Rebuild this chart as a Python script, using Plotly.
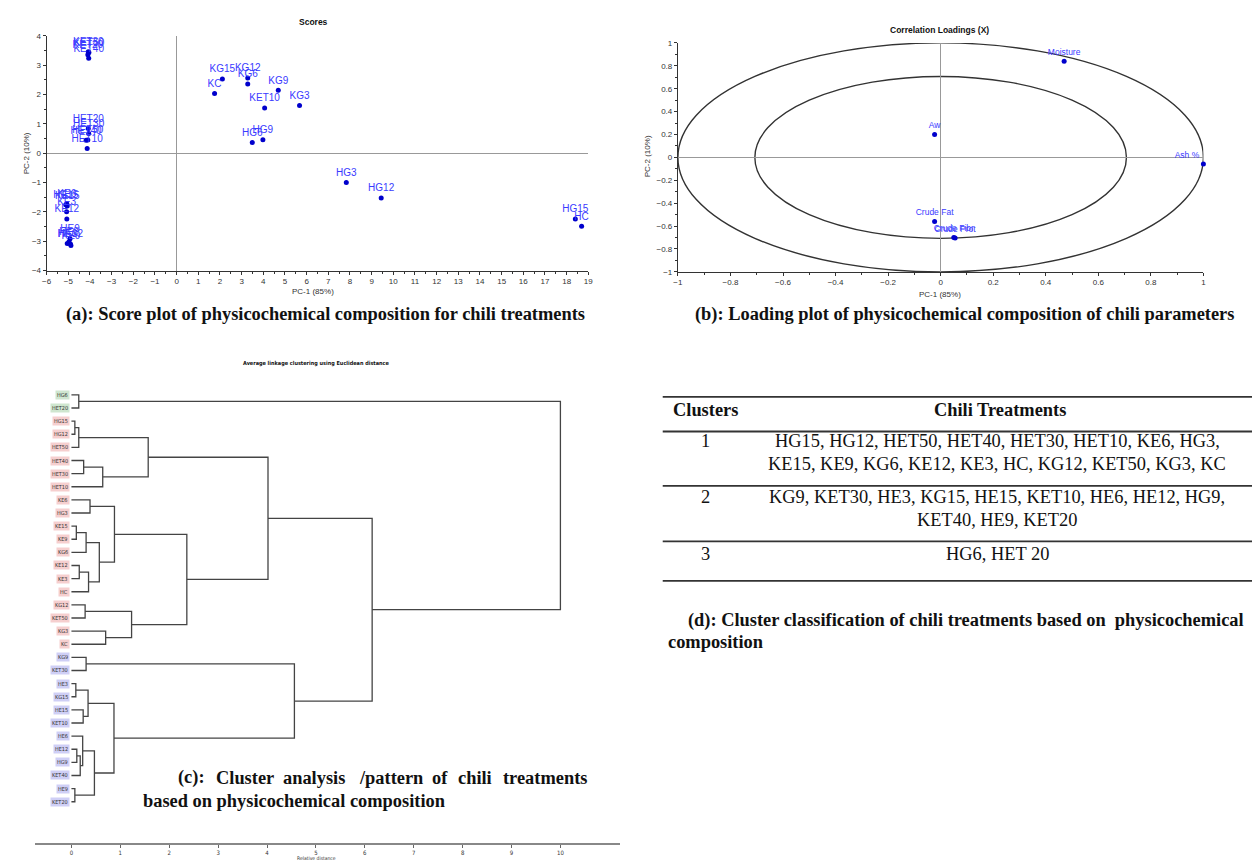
import plotly.graph_objects as go

W, H = 1257, 867

# ---------------- (a) Scores ----------------
score_labels = ["KET30", "KET50", "KET20", "KET40",
                "HET20", "HET30", "HET40", "HET50", "HET10",
                "KE6", "HE15", "KE15", "KE3", "KE12",
                "HE9", "HE3", "HE6", "HE12", "KE9",
                "KG15", "KC", "KG12", "KG6", "KG9", "KET10", "KG3", "HG6", "HG9",
                "HG3", "HG12", "HG15", "HC"]
score_pc1 = [-4.08, -4.05, -4.10, -4.06,
             -4.08, -4.06, -4.18, -4.10, -4.13,
             -5.07, -5.12, -5.05, -5.08, -5.07,
             -4.92, -4.97, -5.05, -4.90, -4.88,
             2.11, 1.75, 3.28, 3.28, 4.69, 4.06, 5.67, 3.49, 3.98,
             7.83, 9.44, 18.40, 18.69]
score_pc2 = [3.46, 3.44, 3.36, 3.24,
             0.84, 0.67, 0.44, 0.45, 0.16,
             -1.72, -1.76, -1.80, -2.00, -2.24,
             -2.92, -3.02, -3.08, -3.10, -3.15,
             2.53, 2.04, 2.57, 2.36, 2.15, 1.54, 1.63, 0.37, 0.46,
             -1.00, -1.53, -2.24, -2.49]

# ---------------- (b) Correlation loadings ----------------
load_labels = ["Moisture", "Aw", "Ash %", "Crude Fat", "Crude Prot", "Crude Fibr"]
load_pc1 = [0.47, -0.023, 1.0, -0.023, 0.055, 0.05]
load_pc2 = [0.84, 0.20, -0.058, -0.56, -0.705, -0.70]
ellipse_radii = [1.0, 0.7071]

# ---------------- (c) Dendrogram ----------------
leaves = ["HG6", "HET20", "HG15", "HG12", "HET50", "HET40", "HET30", "HET10",
          "KE6", "HG3", "KE15", "KE9", "KG6", "KE12", "KE3", "HC",
          "KG12", "KET50", "KG3", "KC",
          "KG9", "KET30", "HE3", "KG15", "HE15", "KET10", "HE6", "HE12",
          "HG9", "KET40", "HE9", "KET20"]
leaf_cluster = [3, 3] + [1] * 18 + [2] * 12
merges = [
    ("HG15", "HG12", 0.07),   # n0
    ("n0", "HET50", 0.15),    # n1
    ("HET40", "HET30", 0.25), # n2
    ("n2", "HET10", 0.64),    # n3
    ("n1", "n3", 1.57),       # n4
    ("KE6", "HG3", 0.38),     # n5
    ("KE15", "KE9", 0.10),    # n6
    ("n6", "KG6", 0.30),      # n7
    ("KE12", "KE3", 0.16),    # n8
    ("n8", "HC", 0.35),       # n9
    ("n7", "n9", 0.57),       # n10
    ("n5", "n10", 0.88),      # n11
    ("KG12", "KET50", 0.28),  # n12
    ("KG3", "KC", 0.70),      # n13
    ("n12", "n13", 1.23),     # n14
    ("n11", "n14", 2.36),     # n15
    ("n4", "n15", 4.02),      # n16
    ("KG9", "KET30", 0.30),   # n17
    ("HE3", "KG15", 0.09),    # n18
    ("HE15", "KET10", 0.24),  # n19
    ("n18", "n19", 0.34),     # n20
    ("HE12", "HG9", 0.11),    # n21
    ("n21", "KET40", 0.18),   # n22
    ("HE6", "n22", 0.23),     # n23
    ("HE9", "KET20", 0.07),   # n24
    ("n23", "n24", 0.47),     # n25
    ("n20", "n25", 0.87),     # n26
    ("n17", "n26", 4.56),     # n27
    ("n16", "n27", 6.15),     # n28
    ("HG6", "HET20", 0.15),   # n29
    ("n29", "n28", 10.0),     # n30
]
dist_ticks = list(range(0, 11))

# ---------------- (d) Table ----------------
clusters = ["1", "2", "3"]
cluster_members = [
    ["HG15", "HG12", "HET50", "HET40", "HET30", "HET10", "KE6", "HG3",
     "KE15", "KE9", "KG6", "KE12", "KE3", "HC", "KG12", "KET50", "KG3", "KC"],
    ["KG9", "KET30", "HE3", "KG15", "HE15", "KET10", "HE6", "HE12", "HG9",
     "KET40", "HE9", "KET20"],
    ["HG6", "HET 20"],
]
line_break_after = [8, 9, None]

# ---------------- helpers ----------------
def px(x):
    return x / W

def py(y):
    return 1 - y / H

SANS = "Liberation Sans, Arial, sans-serif"
SERIF = "Liberation Serif, Times New Roman, serif"
COND = "DejaVu Sans Condensed, DejaVu Sans, sans-serif"
AX = "#333333"
PT = "#0000cc"
LBL = "#3a3aff"
CAP = 18.4

fig = go.Figure()

# scores
fig.add_trace(go.Scatter(
    x=score_pc1, y=score_pc2, text=score_labels, mode="markers+text",
    textposition="top center", marker=dict(color=PT, size=5),
    textfont=dict(family=SANS, size=10, color=LBL),
    xaxis="x", yaxis="y", showlegend=False, cliponaxis=False))

# loadings
tpos = ["top center"] * len(load_labels)
tpos[load_labels.index("Ash %")] = "top left"
fig.add_trace(go.Scatter(
    x=load_pc1, y=load_pc2, text=load_labels, mode="markers+text",
    textposition=tpos, marker=dict(color=PT, size=5),
    textfont=dict(family=SANS, size=8.5, color=LBL),
    xaxis="x2", yaxis="y2", showlegend=False, cliponaxis=False))

# dendrogram
pos = {n: i for i, n in enumerate(leaves)}
hgt = {n: 0.0 for n in leaves}
dx, dy = [], []
for k, (a, b, h) in enumerate(merges):
    dx += [hgt[a], h, h, hgt[b], None]
    dy += [pos[a], pos[a], pos[b], pos[b], None]
    nm = f"n{k}"
    pos[nm] = (pos[a] + pos[b]) / 2
    hgt[nm] = h
fig.add_trace(go.Scatter(
    x=dx, y=dy, mode="lines", line=dict(color="#444444", width=1.3),
    xaxis="x3", yaxis="y3", showlegend=False, hoverinfo="skip"))

annotations = []
shapes = []

box_col = {1: "#f6cfcf", 2: "#cfcff6", 3: "#cfe6cf"}
for i, (lab, c) in enumerate(zip(leaves, leaf_cluster)):
    annotations.append(dict(
        x=0, y=i, xref="x3", yref="y3", text=lab, showarrow=False,
        xanchor="right", yanchor="middle", xshift=-1,
        font=dict(family=COND, size=5.5, color="#333333"),
        bgcolor=box_col[c], borderpad=1))

# ellipses
for r in ellipse_radii:
    shapes.append(dict(type="circle", xref="x2", yref="y2",
                       x0=-r, x1=r, y0=-r, y1=r,
                       line=dict(color="#333333", width=1.4), layer="below"))

# titles / axis titles
def txt(x, y, s, size, family=SANS, bold=False, anchor="center", color="#111111", angle=0):
    annotations.append(dict(
        x=px(x), y=py(y), xref="paper", yref="paper",
        text=f"<b>{s}</b>" if bold else s, showarrow=False,
        xanchor=anchor, yanchor="middle", textangle=angle,
        font=dict(family=family, size=size, color=color)))

txt(311, 18, "Scores", 8.5, bold=True)
txt(310, 291, "PC-1 (85%)", 8, color=AX)
txt(22, 151, "PC-2 (10%)", 8, color=AX, angle=-90)
txt(942, 26, "Correlation Loadings (X)", 8.5, bold=True)
txt(942, 294, "PC-1 (85%)", 8, color=AX)
txt(648, 154, "PC-2 (10%)", 8, color=AX, angle=-90)
txt(314, 363, "Average linkage clustering using Euclidean distance", 5.5, family=COND, bold=True)
txt(314, 863, "Relative distance", 5, family=COND, color=AX)

# captions
txt(323, 314, "(a): Score plot of physicochemical composition for chili treatments", CAP, family=SERIF, bold=True)
txt(967, 314, "(b): Loading plot of physicochemical composition of chili parameters", CAP, family=SERIF, bold=True)
# justified first line of caption (c): words placed individually
cap_c_words = ["(c):", "Cluster", "analysis", "/pattern", "of", "chili", "treatments"]
cap_c_left = [172, 211, 278, 355, 428, 455, 500]
for wd, xl in zip(cap_c_words, cap_c_left):
    txt(xl, 782, wd, CAP, family=SERIF, bold=True, anchor="left")
txt(137, 805, "based on physicochemical composition", CAP, family=SERIF, bold=True, anchor="left")
txt(686, 623, "(d): Cluster classification of chili treatments based on  physicochemical", CAP, family=SERIF, bold=True, anchor="left")
txt(666, 645, "composition", CAP, family=SERIF, bold=True, anchor="left")

# table
for yl in [397, 432, 487, 543, 583]:
    shapes.append(dict(type="line", xref="paper", yref="paper",
                       x0=px(663), x1=px(1257), y0=py(yl), y1=py(yl),
                       line=dict(color="#333333", width=1.8)))
txt(706, 410, "Clusters", CAP, family=SERIF, bold=True)
txt(1003, 410, "Chili Treatments", CAP, family=SERIF, bold=True)
row_y = [442, 498, 556]
for cl, mem, brk, y0 in zip(clusters, cluster_members, line_break_after, row_y):
    txt(706, y0, cl, CAP, family=SERIF)
    if brk is None:
        lines = [", ".join(mem)]
    else:
        lines = [", ".join(mem[:brk]) + ",", ", ".join(mem[brk:])]
    for j, ln in enumerate(lines):
        txt(1000, y0 + 23 * j, ln, CAP, family=SERIF)

axis_common = dict(showline=True, linecolor=AX, linewidth=1, ticks="outside",
                   ticklen=3, tickcolor=AX, showgrid=False,
                   tickfont=dict(family=SANS, size=8, color=AX))

fig.update_layout(
    width=W, height=H, margin=dict(l=0, r=0, t=0, b=0),
    paper_bgcolor="white", plot_bgcolor="white",
    showlegend=False,
    xaxis=dict(domain=[px(42), px(588)], range=[-6, 19], dtick=1, anchor="y",
               zeroline=True, zerolinecolor="#999999", zerolinewidth=1,
               minor=dict(dtick=0.5, ticklen=2, tickcolor=AX, ticks="outside"),
               **axis_common),
    yaxis=dict(domain=[py(269.3), py(32.3)], range=[-4, 4], dtick=1, anchor="x",
               zeroline=True, zerolinecolor="#999999", zerolinewidth=1,
               minor=dict(dtick=0.5, ticklen=2, tickcolor=AX, ticks="outside"),
               **axis_common),
    xaxis2=dict(domain=[px(678.3), px(1208)], range=[-1, 1], dtick=0.2, anchor="y2",
                zeroline=True, zerolinecolor="#999999", zerolinewidth=1,
                minor=dict(dtick=0.1, ticklen=2, tickcolor=AX, ticks="outside"),
                **axis_common),
    yaxis2=dict(domain=[py(270.7), py(39.3)], range=[-1, 1], dtick=0.2, anchor="x2",
                zeroline=True, zerolinecolor="#999999", zerolinewidth=1,
                minor=dict(dtick=0.1, ticklen=2, tickcolor=AX, ticks="outside"),
                **axis_common),
    xaxis3=dict(domain=[px(30), px(620)], range=[-0.75, 11.22], anchor="y3",
                tickvals=dist_ticks, showline=True, linecolor="#888888", linewidth=2,
                ticks="outside", ticklen=3, tickcolor="#666666", showgrid=False,
                zeroline=False, tickfont=dict(family=COND, size=6, color=AX)),
    yaxis3=dict(domain=[py(848), py(380)], range=[34.16, -1.13], anchor="x3",
                visible=False, showgrid=False, zeroline=False),
    annotations=annotations, shapes=shapes,
)

fig.write_html(
    "out.html",
    config={"displayModeBar": False},
    post_script="document.body.style.margin='0';document.documentElement.style.overflow='hidden';",
)
